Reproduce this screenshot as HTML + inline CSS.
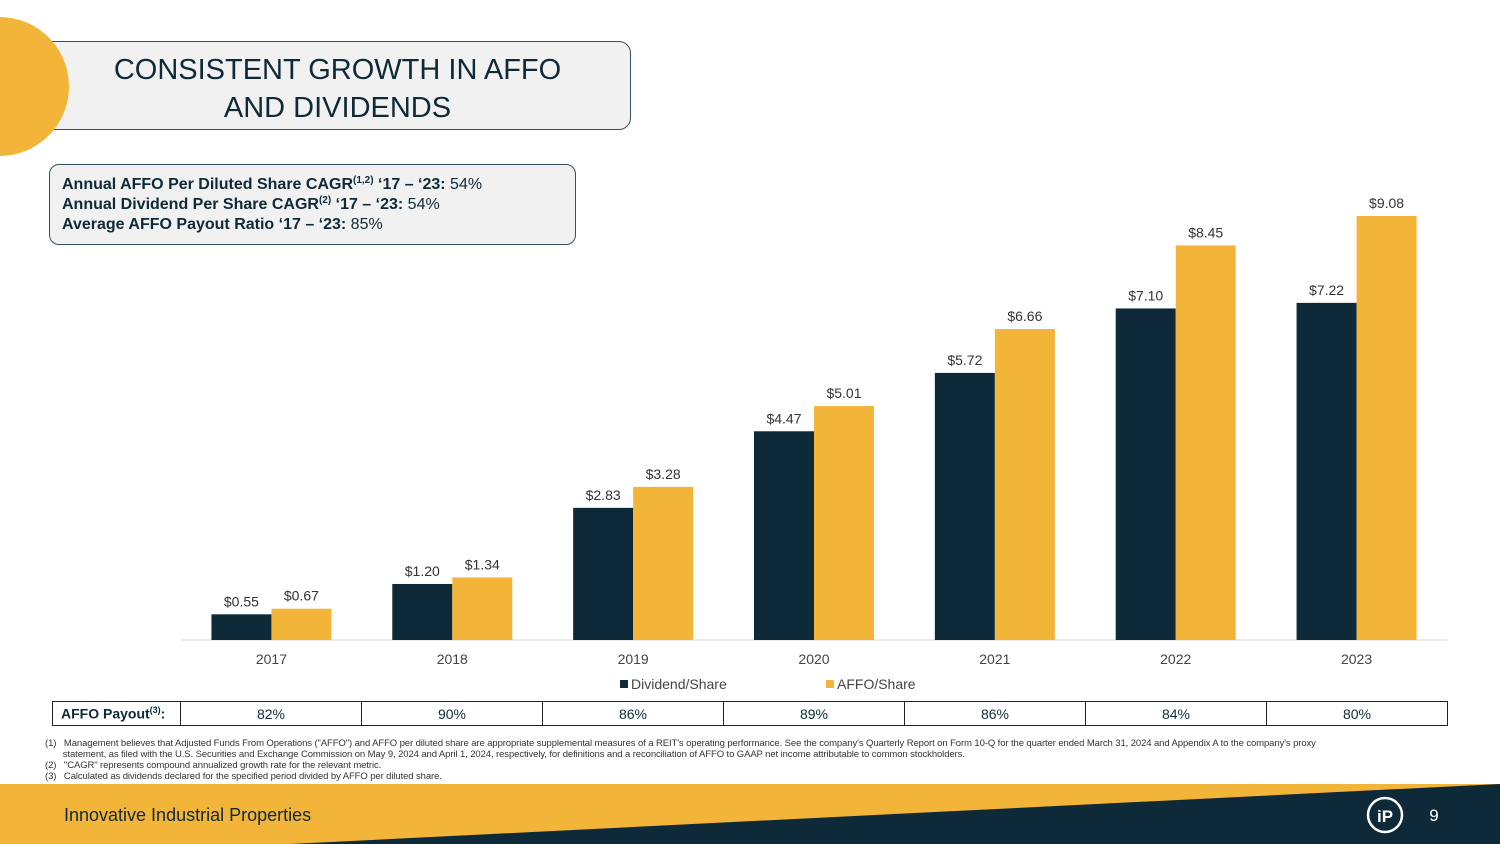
<!DOCTYPE html>
<html><head><meta charset="utf-8">
<style>
body{margin:0;width:1500px;height:844px;position:relative;overflow:hidden;background:#fff;font-family:"Liberation Sans",sans-serif;color:#0e2a38}
.abs{position:absolute}
#title{left:40px;top:41px;width:591px;height:89px;background:#f1f1f1;border:1px solid #37505c;border-radius:12px;text-align:center;font-size:29px;line-height:38px;padding-top:9px;box-sizing:border-box;color:#0e2a38;padding-left:4px}
#circle{left:-70px;top:17px;width:139px;height:139px;border-radius:50%;background:#f3b43a;z-index:2}
#stats{left:49px;top:164px;width:527px;height:81px;background:#f1f1f1;border:1px solid #37505c;border-radius:10px;box-sizing:border-box;padding:10px 12px;font-size:16px;line-height:20px}
#stats sup{font-size:10px;line-height:0;vertical-align:6px}
table{border-collapse:collapse;position:absolute;left:52px;top:701px;width:1396px;height:25px;font-size:14px;table-layout:fixed}
td{border:1px solid #222;text-align:center;padding:0}
.foot{left:45px;font-size:9.5px;color:#333;line-height:11px;letter-spacing:-0.1px}
</style></head><body>
<div id="circle" class="abs"></div>
<div id="title" class="abs">CONSISTENT GROWTH IN AFFO<br>AND DIVIDENDS</div>
<div id="stats" class="abs">
<div><b>Annual AFFO Per Diluted Share CAGR<sup>(1,2)</sup> ‘17 – ‘23:</b> 54%</div>
<div><b>Annual Dividend Per Share CAGR<sup>(2)</sup> ‘17 – ‘23:</b> 54%</div>
<div><b>Average AFFO Payout Ratio ‘17 – ‘23:</b> 85%</div>
</div>
<svg id="chart" class="abs" style="left:0;top:0" width="1500" height="700"></svg>
<table><tr id="payrow"><td style="width:119px;text-align:left;padding-left:8px;font-weight:bold">AFFO Payout<sup style="font-size:9px">(3)</sup>:</td></tr></table>
<div class="abs foot" style="top:738px;width:1400px">
<div>(1)&nbsp;&nbsp; Management believes that Adjusted Funds From Operations ("AFFO") and AFFO per diluted share are appropriate supplemental measures of a REIT's operating performance. See the company's Quarterly Report on Form 10-Q for the quarter ended March 31, 2024 and Appendix A to the company's proxy<br>&nbsp;&nbsp;&nbsp;&nbsp;&nbsp;&nbsp; statement, as filed with the U.S. Securities and Exchange Commission on May 9, 2024 and April 1, 2024, respectively, for definitions and a reconciliation of AFFO to GAAP net income attributable to common stockholders.</div>
<div>(2)&nbsp;&nbsp; "CAGR" represents compound annualized growth rate for the relevant metric.</div>
<div>(3)&nbsp;&nbsp; Calculated as dividends declared for the specified period divided by AFFO per diluted share.</div>
</div>
<svg class="abs" style="left:0;top:784px" width="1500" height="60">
<rect x="0" y="0" width="1500" height="60" fill="#f3b43a"/>
<polygon points="290,60 1500,0 1500,60" fill="#0e2a38"/>
<text x="64" y="37" font-size="18" fill="#0e2a38" font-family="Liberation Sans">Innovative Industrial Properties</text>
<circle cx="1385" cy="31" r="17" fill="none" stroke="#fff" stroke-width="2.5"/>
<text x="1385" y="38" font-size="17" font-weight="bold" fill="#fff" text-anchor="middle" font-family="Liberation Sans">iP</text>
<text x="1434" y="37" font-size="17" fill="#fff" text-anchor="middle" font-family="Liberation Sans">9</text>
</svg>
<script>
const years=["2017","2018","2019","2020","2021","2022","2023"];
const dividends=[0.55,1.20,2.83,4.47,5.72,7.10,7.22];
const affo=[0.67,1.34,3.28,5.01,6.66,8.45,9.08];
const payout=["82%","90%","86%","89%","86%","84%","80%"];
const NS="http://www.w3.org/2000/svg";
const svg=document.getElementById('chart');
const x0=181,x1=1447,baseY=640,pxPer=424/9.08;
const cw=(x1-x0)/years.length;
const y=v=>baseY-v*pxPer;
function mk(t,a){const e=document.createElementNS(NS,t);for(const k in a)e.setAttribute(k,a[k]);svg.appendChild(e);return e;}
const ax=mk('line',{x1:x0,x2:x1,y1:baseY,y2:baseY,stroke:'#d9d9d9'});


years.forEach((yr,i)=>{
 const c=x0+cw*i+cw/2;
 const b1=mk('rect',{x:c-60,y:y(dividends[i]),width:60,height:baseY-y(dividends[i]),fill:'#0e2a38'});
 
 
 const b2=mk('rect',{x:c,y:y(affo[i]),width:60,height:baseY-y(affo[i]),fill:'#f3b43a'});
 
 
 const l1=mk('text',{x:c-30,y:y(dividends[i])-8,'text-anchor':'middle','font-size':14,fill:'#333'});l1.textContent='$'+dividends[i].toFixed(2);
 
 
 const l2=mk('text',{x:c+30,y:y(affo[i])-8,'text-anchor':'middle','font-size':14,fill:'#333'});l2.textContent='$'+affo[i].toFixed(2);
 
 
 const t=mk('text',{x:c,y:664,'text-anchor':'middle','font-size':14,fill:'#444'});t.textContent=yr;
 
 
 const td=document.createElement('td');td.textContent=payout[i];
 
 
 document.getElementById('payrow').appendChild(td);
});
const lg1=mk('rect',{x:620,y:680,width:8,height:8,fill:'#0e2a38'});


const lt1=mk('text',{x:631,y:689,'font-size':14,fill:'#444'});lt1.textContent='Dividend/Share';


const lg2=mk('rect',{x:826,y:680,width:8,height:8,fill:'#f3b43a'});


const lt2=mk('text',{x:837,y:689,'font-size':14,fill:'#444'});lt2.textContent='AFFO/Share';


</script>
</body></html>
